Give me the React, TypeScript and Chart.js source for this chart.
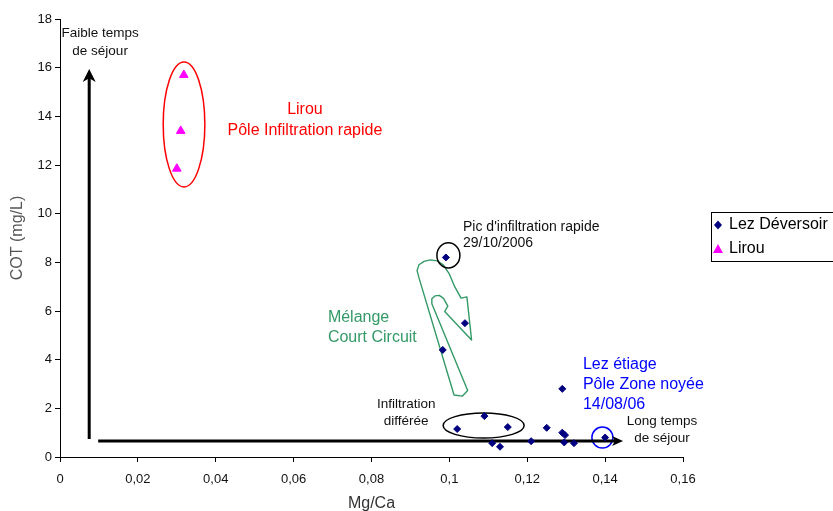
import React, { useEffect, useRef } from "react";
import { Chart, registerables } from "chart.js";

Chart.register(...registerables);

// ---- Data ----
const lezDeversoirMgCa = [0.0991, 0.104, 0.0983, 0.129, 0.102, 0.109, 0.115, 0.111, 0.113, 0.121, 0.125, 0.129, 0.1297, 0.1295, 0.132, 0.140];
const lezDeversoirCOT = [8.2, 5.5, 4.4, 2.8, 1.15, 1.68, 1.23, 0.57, 0.42, 0.65, 1.2, 1.0, 0.9, 0.6, 0.57, 0.8];
const lirouMgCa = [0.0318, 0.031, 0.030];
const lirouCOT = [15.7, 13.4, 11.85];

const seriesNames = ["Lez Déversoir", "Lirou"];
const xAxisTitle = "Mg/Ca";
const yAxisTitle = "COT (mg/L)";
const xRange = [0, 0.16];
const xStep = 0.02;
const yRange = [0, 18];
const yStep = 2;

// ---- Annotations (in data units) ----
const arrows = [
  { from: [0.0075, 0.74], to: [0.0075, 15.95], len: 13, half: 6.5 },
  { from: [0.0098, 0.66], to: [0.1446, 0.66], len: 11, half: 5 },
];
const ellipses = [
  { x0: 0.0265, x1: 0.0372, y0: 11.1, y1: 16.23, color: "#FF0000" },
  { x0: 0.0968, x1: 0.1027, y0: 7.77, y1: 8.8, color: "#000000" },
  { x0: 0.0984, x1: 0.1192, y0: 0.78, y1: 1.81, color: "#000000" },
  { x0: 0.1366, x1: 0.142, y0: 0.37, y1: 1.23, color: "#0000FF" },
];
const greenArrowOutline = [
  [0.1012, 2.55], [0.0922, 7.36], [0.0917, 7.66], [0.0922, 7.9], [0.0935, 8.04],
  [0.0951, 8.1], [0.0969, 8.06], [0.0984, 7.9], [0.0999, 7.55], [0.1014, 6.99],
  [0.103, 6.53], [0.1045, 6.58], [0.1057, 4.81], [0.0988, 5.98], [0.0996, 6.2],
  [0.0985, 6.52], [0.0974, 6.64], [0.0963, 6.62], [0.0955, 6.5], [0.0955, 6.3],
  [0.1047, 2.73], [0.1033, 2.5],
];
const GREEN = "#339966";
const textNotes = [
  { lines: ["Faible temps", "de séjour"], x: 0.0103, y: 17.43, align: "center", color: "#111", size: 13.5, lh: 18 },
  { lines: ["Lirou", "Pôle Infiltration rapide"], x: 0.0629, y: 14.26, align: "center", color: "#FF0000", size: 16, lh: 21 },
  { lines: ["Pic d'infiltration rapide", "29/10/2006"], x: 0.1035, y: 9.45, align: "left", color: "#111", size: 14, lh: 16.5 },
  { lines: ["Mélange", "Court Circuit"], x: 0.0688, y: 5.71, align: "left", color: GREEN, size: 16, lh: 20 },
  { lines: ["Infiltration", "différée"], x: 0.0889, y: 2.18, align: "center", color: "#111", size: 13.5, lh: 17.5 },
  { lines: ["Lez étiage", "Pôle Zone noyée", "14/08/06"], x: 0.1343, y: 3.78, align: "left", color: "#0000FF", size: 16, lh: 20 },
  { lines: ["Long temps", "de séjour"], x: 0.1546, y: 1.48, align: "center", color: "#111", size: 13.5, lh: 17 },
];

const FONT = "'Liberation Sans', Arial, sans-serif";
const LEZ_COLOR = "#000080";
const LIROU_COLOR = "#FF00FF";

const annotationPlugin = {
  id: "annotations",
  beforeDatasetsDraw(chart: any) {
    const ctx = chart.ctx as CanvasRenderingContext2D;
    const sx = chart.scales.x, sy = chart.scales.y;
    const X = (v: number) => sx.getPixelForValue(v);
    const Y = (v: number) => sy.getPixelForValue(v);
    ctx.save();
    // green U-turn arrow outline
    ctx.beginPath();
    greenArrowOutline.forEach(([a, b], i) => (i ? ctx.lineTo(X(a), Y(b)) : ctx.moveTo(X(a), Y(b))));
    ctx.closePath();
    ctx.strokeStyle = GREEN;
    ctx.lineWidth = 1.4;
    ctx.lineJoin = "round";
    ctx.stroke();
    // ellipses
    ellipses.forEach((e) => {
      ctx.beginPath();
      ctx.ellipse(
        (X(e.x0) + X(e.x1)) / 2,
        (Y(e.y0) + Y(e.y1)) / 2,
        Math.abs(X(e.x1) - X(e.x0)) / 2,
        Math.abs(Y(e.y1) - Y(e.y0)) / 2,
        0, 0, Math.PI * 2
      );
      ctx.strokeStyle = e.color;
      ctx.lineWidth = 1.5;
      ctx.stroke();
    });
    // arrows
    arrows.forEach((a) => {
      const x0 = X(a.from[0]), y0 = Y(a.from[1]);
      const x1 = X(a.to[0]), y1 = Y(a.to[1]);
      const ang = Math.atan2(y1 - y0, x1 - x0);
      const c = Math.cos(ang), s = Math.sin(ang);
      ctx.beginPath();
      ctx.moveTo(x0, y0);
      ctx.lineTo(x1 - c * a.len * 0.7, y1 - s * a.len * 0.7);
      ctx.strokeStyle = "#000";
      ctx.lineWidth = 3;
      ctx.stroke();
      ctx.beginPath();
      ctx.moveTo(x1, y1);
      ctx.lineTo(x1 - c * a.len - s * a.half, y1 - s * a.len + c * a.half);
      ctx.lineTo(x1 - c * a.len * 0.72, y1 - s * a.len * 0.72);
      ctx.lineTo(x1 - c * a.len + s * a.half, y1 - s * a.len - c * a.half);
      ctx.closePath();
      ctx.fillStyle = "#000";
      ctx.fill();
    });
    // texts
    textNotes.forEach((t) => {
      ctx.font = `${t.size}px ${FONT}`;
      ctx.fillStyle = t.color;
      ctx.textAlign = t.align as CanvasTextAlign;
      ctx.textBaseline = "middle";
      t.lines.forEach((line, i) => ctx.fillText(line, X(t.x), Y(t.y) + i * t.lh));
    });
    ctx.restore();
  },
  afterDraw(chart: any) {
    const ctx = chart.ctx as CanvasRenderingContext2D;
    const area = chart.chartArea;
    ctx.save();
    // axis titles
    ctx.font = `16px ${FONT}`;
    ctx.textAlign = "center";
    ctx.textBaseline = "middle";
    ctx.fillStyle = "#333";
    ctx.fillText(xAxisTitle, (area.left + area.right) / 2, 504);
    ctx.save();
    ctx.translate(18, (area.top + area.bottom) / 2);
    ctx.rotate(-Math.PI / 2);
    ctx.fillStyle = "#555";
    ctx.fillText(yAxisTitle, 0, 0);
    ctx.restore();
    // legend
    ctx.strokeStyle = "#000";
    ctx.lineWidth = 1;
    ctx.strokeRect(711.5, 212.5, 140, 49);
    ctx.font = `16px ${FONT}`;
    ctx.textAlign = "left";
    ctx.fillStyle = "#000";
    ctx.fillText(seriesNames[0], 729, 225);
    ctx.fillText(seriesNames[1], 729, 249);
    // diamond
    ctx.fillStyle = LEZ_COLOR;
    ctx.beginPath();
    ctx.moveTo(718, 220.5); ctx.lineTo(722, 225); ctx.lineTo(718, 229.5); ctx.lineTo(714, 225);
    ctx.closePath(); ctx.fill();
    // triangle
    ctx.fillStyle = LIROU_COLOR;
    ctx.beginPath();
    ctx.moveTo(718, 244); ctx.lineTo(723, 253); ctx.lineTo(713, 253);
    ctx.closePath(); ctx.fill();
    ctx.restore();
  },
};

const fmt = (v: number) => Number(v.toFixed(2)).toString().replace(".", ",");

export default function App() {
  const ref = useRef<HTMLCanvasElement | null>(null);
  useEffect(() => {
    if (!ref.current) return;
    const chart = new Chart(ref.current, {
      type: "scatter",
      data: {
        datasets: [
          {
            label: seriesNames[0],
            data: lezDeversoirMgCa.map((x, i) => ({ x, y: lezDeversoirCOT[i] })),
            pointStyle: "rectRot",
            radius: 3.5,
            borderWidth: 1,
            backgroundColor: LEZ_COLOR,
            borderColor: LEZ_COLOR,
          },
          {
            label: seriesNames[1],
            data: lirouMgCa.map((x, i) => ({ x, y: lirouCOT[i] })),
            pointStyle: "triangle",
            radius: 5,
            borderWidth: 1,
            backgroundColor: LIROU_COLOR,
            borderColor: LIROU_COLOR,
          },
        ],
      },
      options: {
        animation: false,
        responsive: false,
        events: [],
        layout: { padding: { top: 19, right: 150, left: 0, bottom: 0 } },
        plugins: { legend: { display: false }, tooltip: { enabled: false } },
        scales: {
          x: {
            type: "linear",
            min: xRange[0],
            max: xRange[1],
            afterFit: (s: any) => { s.height = 54; },
            ticks: {
              stepSize: xStep,
              callback: (v: any) => fmt(Number(v)),
              font: { size: 13, family: FONT },
              color: "#111",
              padding: 10,
            },
            grid: { drawOnChartArea: false, drawTicks: true, tickLength: 5, color: "#000" },
            border: { display: true, color: "#000", width: 1 },
          },
          y: {
            type: "linear",
            min: yRange[0],
            max: yRange[1],
            afterFit: (s: any) => { s.width = 60; },
            ticks: {
              stepSize: yStep,
              font: { size: 13, family: FONT },
              color: "#111",
              padding: 3,
            },
            grid: { drawOnChartArea: false, drawTicks: true, tickLength: 5, color: "#000" },
            border: { display: true, color: "#000", width: 1 },
          },
        },
      },
      plugins: [annotationPlugin],
    });
    return () => chart.destroy();
  }, []);
  return (
    <div style={{ position: "fixed", left: 0, top: 0, width: 833, height: 511, background: "#fff" }}>
      <canvas ref={ref} width={833} height={511} />
    </div>
  );
}
